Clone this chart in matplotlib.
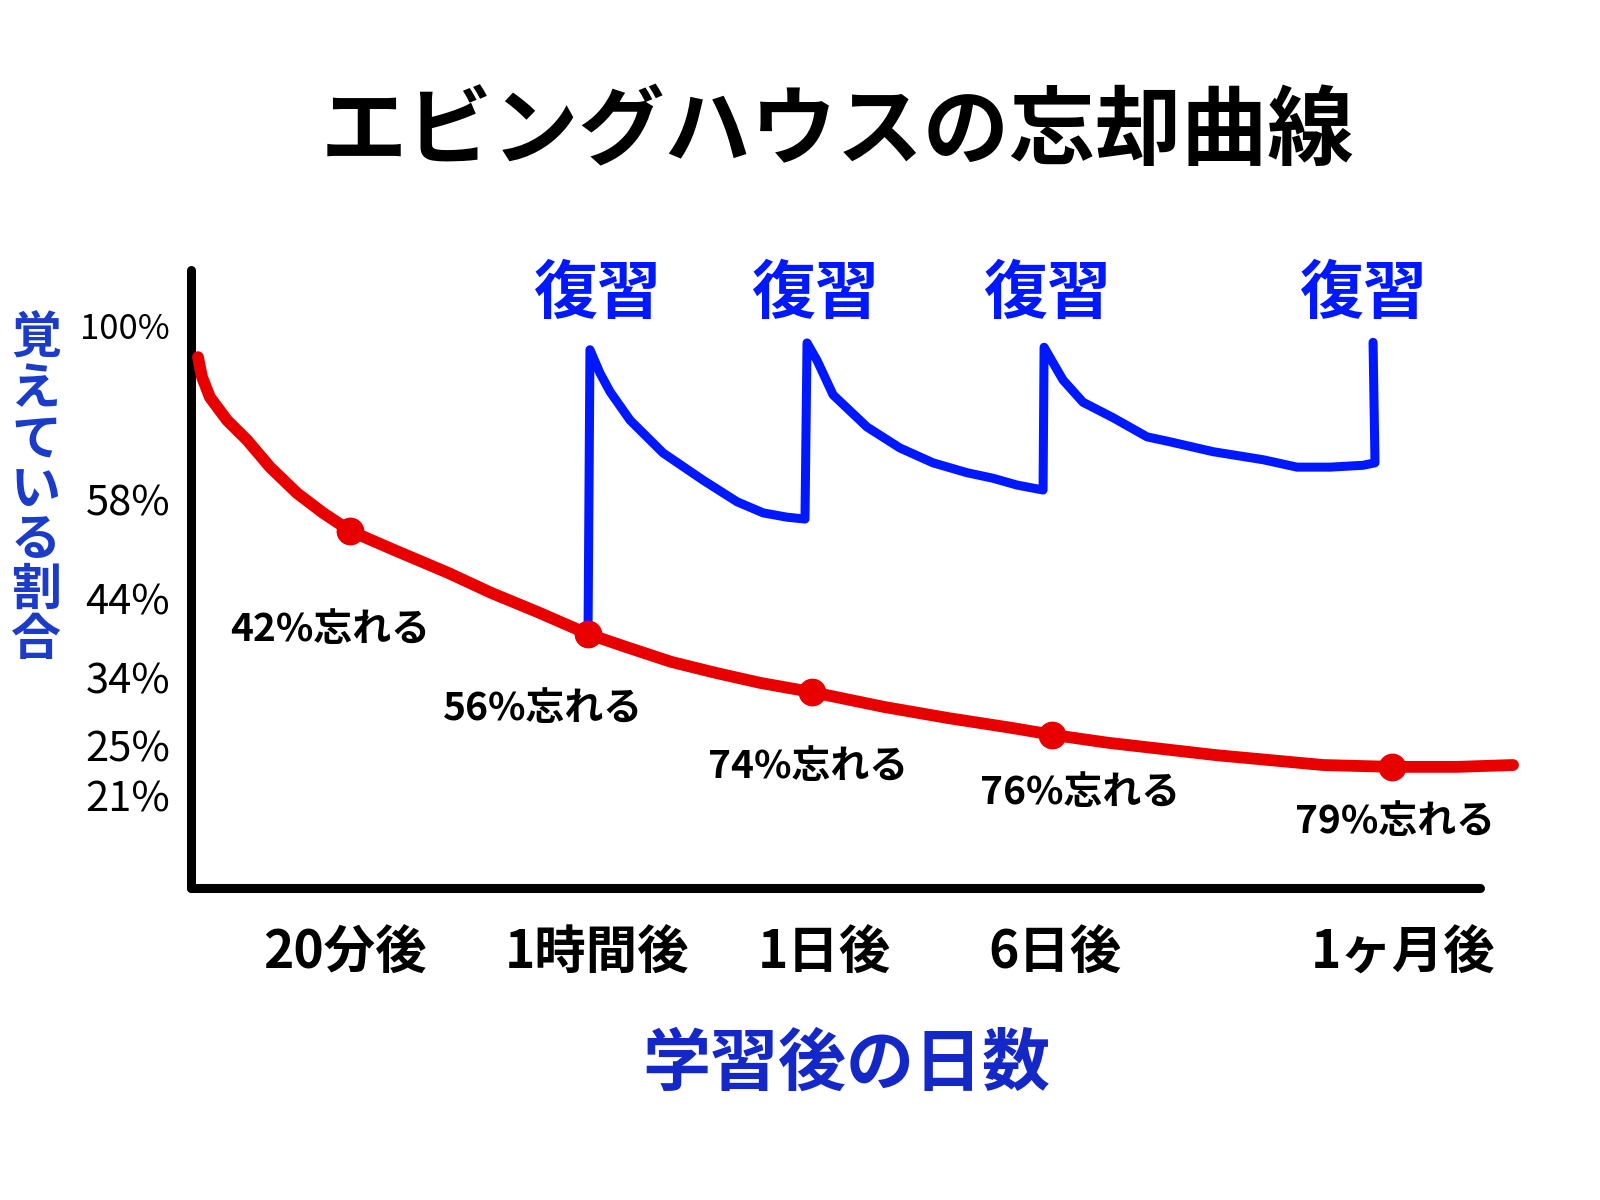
import matplotlib.pyplot as plt

plt.rcParams['font.family'] = ['Noto Sans CJK JP', 'DejaVu Sans']

# red curve: memory without review (chart units, x 0-100 along the axis, y 0-100 up the axis)
red_x = [0.54, 0.85, 1.47, 2.79, 4.34, 6.13, 8.22, 10.24, 12.33, 15.75, 19.94, 23.35,
         26.84, 30.80, 33.75, 37.24, 40.73, 44.14, 48.18, 53.76, 58.73, 63.69, 66.80,
         71.14, 79.52, 87.82, 93.17, 98.22, 102.56]
red_y = [85.9, 82.7, 79.4, 75.7, 72.5, 68.1, 63.9, 60.7, 57.8, 54.7, 51.0, 47.7,
         44.7, 41.1, 39.0, 36.6, 34.8, 33.2, 31.7, 29.3, 27.5, 25.9, 24.8,
         23.5, 21.5, 19.9, 19.6, 19.6, 19.9]

# dots on the red curve
dot_x = [12.33, 30.80, 48.18, 66.80, 93.17]
dot_y = [57.8, 41.1, 31.7, 24.8, 19.6]
forget_labels = ['42%忘れる', '56%忘れる', '74%忘れる', '76%忘れる', '79%忘れる']

# blue curve: memory with reviews
blue_x = [30.80, 30.95, 31.73, 32.51, 34.06, 36.62, 39.72, 42.36, 44.38, 46.24, 47.63,
          47.79, 48.56, 49.81, 52.44, 55.00, 57.56, 60.20, 62.22, 64.08, 66.10,
          66.18, 66.87, 67.65, 69.20, 71.53, 74.17, 75.95, 79.29, 83.17, 85.80,
          88.36, 90.92, 91.85, 91.70]
blue_y = [41.1, 87.1, 83.3, 80.3, 75.7, 70.4, 66.0, 62.5, 60.7, 60.0, 59.7,
          88.2, 85.4, 79.8, 74.6, 71.2, 68.8, 67.2, 66.3, 65.2, 64.4,
          87.5, 85.0, 82.2, 78.6, 76.1, 73.0, 72.2, 70.6, 69.3, 68.1,
          68.1, 68.4, 68.8, 88.3]
review_x = [31.5, 48.4, 66.4, 90.9]

x_ticks = [11.95, 31.5, 49.1, 67.0, 94.0]
x_labels = ['20分後', '1時間後', '1日後', '6日後', '1ヶ月後']
y_ticks = [91.1, 62.8, 46.9, 34.1, 23.1, 14.9]
y_labels = ['100%', '58%', '44%', '34%', '25%', '21%']

# where the "忘れる" notes sit
note_x = [10.8, 27.3, 47.9, 69.0, 93.4]
note_y = [41.9, 29.0, 19.7, 15.4, 10.8]

fig = plt.figure(figsize=(16, 12), dpi=100)
ax = fig.add_axes([191 / 1600, 312 / 1200, 1353.5 / 1600, 618 / 1200])
ax.set_xlim(0, 105)
ax.set_ylim(0, 100)

ax.plot(red_x, red_y, color='#e80000', lw=8.5, solid_capstyle='round',
        solid_joinstyle='round', clip_on=False, zorder=3)
ax.plot(dot_x, dot_y, 'o', color='#e80000', ms=19, clip_on=False, zorder=4)
ax.plot(blue_x, blue_y, color='#0018ff', lw=6.5, solid_capstyle='round',
        solid_joinstyle='round', clip_on=False, zorder=2)

for x, y, s in zip(note_x, note_y, forget_labels):
    ax.text(x, y, s, fontsize=28, fontweight='bold', ha='center', va='center',
            color='black')

for x in review_x:
    ax.text(x, 96.1, '復習', fontsize=46, fontweight='bold', color='#0018ff',
            ha='center', va='center', clip_on=False)

# hand-drawn style axes
for side in ['top', 'right']:
    ax.spines[side].set_visible(False)
for side in ['left', 'bottom']:
    ax.spines[side].set_linewidth(6.5)
    ax.spines[side].set_capstyle('round')
ax.spines['bottom'].set_bounds(0, 100)

ax.set_xticks(x_ticks)
ax.set_xticklabels(x_labels, fontsize=37, fontweight='bold')
ax.set_yticks(y_ticks)
ax.set_yticklabels(y_labels, fontsize=30)
ax.get_yticklabels()[0].set_fontsize(25)
ax.tick_params(axis='x', length=0, pad=28)
ax.tick_params(axis='y', length=0, pad=15)

fig.text(837 / 1600, 1 - 133 / 1200, 'エビングハウスの忘却曲線', fontsize=62,
         fontweight='bold', ha='center', va='center')
fig.text(36 / 1600, 1 - 490 / 1200, '\n'.join('覚えている割合'), fontsize=36,
         fontweight='bold', color='#1a3cc8', ha='center', va='center', linespacing=0.98)
fig.text(846 / 1600, 1 - 1065 / 1200, '学習後の日数', fontsize=49,
         fontweight='bold', color='#1428c8', ha='center', va='center')

plt.savefig('out.png', dpi=100)
